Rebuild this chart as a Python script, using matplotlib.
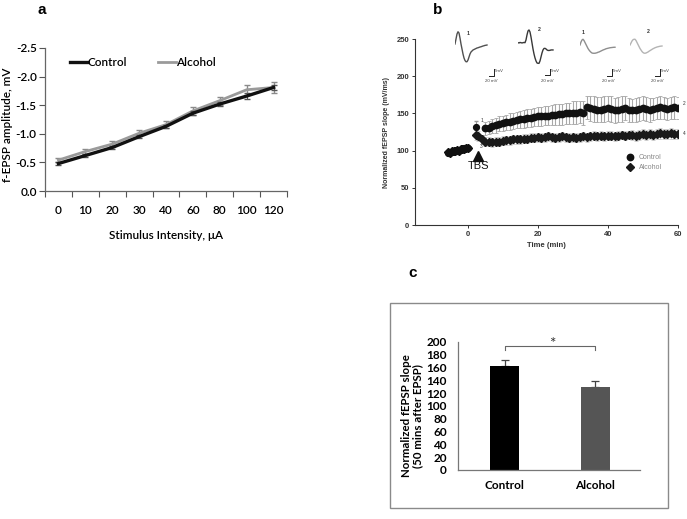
import matplotlib
matplotlib.use("Agg")
import matplotlib.pyplot as plt
import numpy as np
from matplotlib.patches import Rectangle
from matplotlib.lines import Line2D

W, H = 687, 519
plt.rcParams['font.family'] = ['Lato', 'DejaVu Sans']

# ---------------- Panel a data ----------------
a_categories = ['0', '10', '20', '30', '40', '60', '80', '100', '120']
a_control = [-0.48, -0.62, -0.76, -0.95, -1.13, -1.36, -1.52, -1.66, -1.81]
a_control_err = [0.02, 0.02, 0.03, 0.03, 0.03, 0.04, 0.04, 0.05, 0.05]
a_alcohol = [-0.54, -0.69, -0.82, -1.01, -1.16, -1.40, -1.58, -1.77, -1.81]
a_alcohol_err = [0.03, 0.04, 0.05, 0.05, 0.06, 0.07, 0.07, 0.09, 0.10]
a_yticks = [0.0, -0.5, -1.0, -1.5, -2.0, -2.5]

# ---------------- Panel b data ----------------
b_base_t = [-5.5, -5.0, -4.5, -4.0, -3.5, -3.0, -2.5, -2.0, -1.5, -1.0, -0.5, 0.0]
b_base_ctrl = [97, 98, 98, 99, 100, 100, 101, 101, 102, 103, 103, 104]
b_base_alc = [98, 97, 99, 99, 100, 101, 100, 102, 102, 102, 104, 104]
b_base_err = [2, 2, 2, 2, 2, 2, 2, 2, 2, 2, 2, 2]

b_ctrl_first_t = [2.5]
b_ctrl_first = [132]
b_ctrl_first_err = [8]

b_ctrl_t = list(range(5, 61))
b_ctrl = [130, 131, 133, 134, 136, 137, 138, 139, 140, 141,
          142, 143, 144, 144, 145, 146, 146, 147, 147, 148,
          148, 149, 149, 150, 150, 151, 151, 152, 150, 158,
          157, 156, 155, 155, 156, 157, 156, 154, 155, 156,
          157, 155, 154, 155, 156, 157, 156, 155, 156, 157,
          158, 157, 156, 157, 158, 157]
b_ctrl_err = [9, 9, 9, 10, 10, 10, 10, 11, 11, 11,
              11, 12, 12, 12, 12, 13, 13, 13, 13, 13,
              14, 14, 14, 14, 14, 15, 15, 15, 16, 16,
              17, 17, 17, 17, 17, 17, 17, 17, 17, 17,
              16, 16, 16, 16, 16, 16, 16, 16, 15, 15,
              15, 15, 15, 15, 15, 15]

b_alc_t = [2.5] + list(range(3, 61))
b_alc = [121, 120, 115, 112, 112, 111, 112, 112, 113, 114, 114,
         115, 115, 115, 116, 116, 117, 117, 118, 117, 118,
         119, 118, 117, 118, 119, 118, 117, 118, 117, 118,
         119, 118, 119, 120, 119, 120, 119, 120, 120, 119,
         120, 121, 120, 121, 121, 120, 121, 122, 121, 122,
         121, 122, 123, 122, 122, 123, 122, 122]
b_alc_err = [7, 7, 6, 6, 6, 6, 6, 6, 6, 6, 6,
             6, 6, 6, 6, 6, 6, 6, 6, 6, 6,
             6, 6, 6, 6, 6, 6, 6, 6, 6, 6,
             6, 6, 6, 6, 6, 6, 6, 6, 6, 6,
             6, 6, 6, 6, 7, 7, 7, 7, 7, 7,
             7, 7, 7, 7, 7, 7, 7, 7]
b_xticks = [0, 20, 40, 60]
b_yticks = [0, 50, 100, 150, 200, 250]

# example traces (mV, 1 sample per pixel column)
trace1 = [0, 4, 8, 9.8, 8.8, 4.8, 0, -4, -8, -11.2, -13.2, -14.2, -14.2, -12.8, -10.4, -8,
          -6.4, -5.6, -4.8, -4.4, -4, -3.6, -3.2, -3, -2.7, -2.4, -2.2, -1.9, -1.6, -1.4,
          -1.1, -1, -0.8]
trace2 = [0, -0.2, 0.2, 0, -0.2, 0, 0.2, 0, 2.2, 6.2, 9.4, 10.2, 8.6, 4.6, -0.2, -5, -9,
          -12.2, -14.6, -16.2, -16.5, -16.5, -14.6, -11.4, -8.2, -5.8, -4.6, -4.5, -5, -5.8,
          -6.2, -6.2, -6.1, -5.8, -5.8, -5.8]
trace3 = [0, 2.4, 4, 4.6, 3.6, 2, 0.4, -1.2, -2.8, -4, -5, -5.8, -6.4, -6.6, -6.6, -6.6,
          -6.4, -6.2, -5.8, -5.6, -5.2, -4.8, -4.4, -4, -3.7, -3.4, -3, -2.8, -2.6, -2.4,
          -2.2, -2.1, -2, -1.9, -1.8, -1.8]
trace4 = [0, 1.6, 3.2, 4.2, 4.6, 4.6, 3.6, 2, 0.4, -1.2, -2.8, -4, -5.2, -6, -6.5, -6.6,
          -6.4, -6, -5.6, -5, -4.5, -4, -3.5, -3, -2.6, -2.2, -1.9, -1.6, -1.4, -1.2, -1,
          -0.9, -0.8]
trace_labels = ['1', '2', '1', '2']

# ---------------- Panel c data ----------------
c_categories = ['Control', 'Alcohol']
c_values = [162, 129]
c_errors = [10, 10]
c_yticks = [0, 20, 40, 60, 80, 100, 120, 140, 160, 180, 200]


def fig_rect(left, top, right, bottom):
    return [left / W, (H - bottom) / H, (right - left) / W, (bottom - top) / H]


fig = plt.figure(figsize=(W / 100, H / 100), dpi=100)

# ================= Panel a =================
axa = fig.add_axes(fig_rect(45, 48, 287, 191))
xa = np.arange(len(a_categories))
axa.errorbar(xa, a_alcohol, yerr=a_alcohol_err, color='#9a9a9a', lw=2.0,
             ecolor='#8a8a8a', elinewidth=1, capsize=2.5, zorder=2)
axa.errorbar(xa, a_control, yerr=a_control_err, color='#111111', lw=2.4,
             ecolor='#555555', elinewidth=0.8, capsize=2, zorder=3)
axa.set_xlim(-0.5, len(a_categories) - 0.5)
axa.set_ylim(0, -2.5)
axa.set_yticks(a_yticks)
axa.set_yticklabels([f'{v:.1f}' for v in a_yticks])
axa.set_xticks(xa)
axa.set_xticklabels(a_categories)
axa.set_xticks(np.arange(-0.5, len(a_categories)), minor=True)
axa.tick_params(axis='x', which='major', length=0, pad=10, labelsize=8.5)
axa.tick_params(axis='x', which='minor', length=4, direction='out', width=0.8, color='#555')
axa.tick_params(axis='y', length=4, width=0.8, color='#555', labelsize=8.5, pad=2)
for lab in axa.get_xticklabels() + axa.get_yticklabels():
    lab.set_fontweight('semibold')
for s in ['top', 'right']:
    axa.spines[s].set_visible(False)
for s in ['left', 'bottom']:
    axa.spines[s].set_color('#666')
    axa.spines[s].set_linewidth(0.9)
axa.set_ylabel('f-EPSP amplitude, mV', fontsize=8.5, fontweight='semibold')
axa.yaxis.set_label_coords((13 - 45) / 242, (191 - 125) / 143)
axa.set_xlabel('Stimulus Intensity, \u03bcA', fontsize=8.5, fontweight='semibold', labelpad=10)
h_ctrl = Line2D([], [], color='#111111', lw=2.4)
h_alc = Line2D([], [], color='#9a9a9a', lw=2.0)
axa.legend([h_ctrl, h_alc], ['Control', 'Alcohol'], ncol=2, loc='center left',
           bbox_to_anchor=(0.058, 0.9), frameon=False,
           handlelength=1.5, handletextpad=0.05, columnspacing=2.6,
           prop={'weight': 'semibold', 'size': 8.5})

# ================= Panel b =================
axb = fig.add_axes(fig_rect(415, 39, 678, 225))
bfam = ['Liberation Sans', 'DejaVu Sans']
axb.errorbar(b_ctrl_t, b_ctrl, yerr=b_ctrl_err, fmt='none', ecolor='#a8a8a8',
             elinewidth=0.8, capsize=1.5, capthick=0.6, zorder=1)
axb.errorbar(b_alc_t, b_alc, yerr=b_alc_err, fmt='none', ecolor='#c8c8c8',
             elinewidth=0.8, capsize=1.5, capthick=0.6, zorder=1)
axb.errorbar(b_ctrl_first_t, b_ctrl_first, yerr=b_ctrl_first_err, fmt='none',
             ecolor='#999', elinewidth=0.8, capsize=1.5, zorder=1)
axb.errorbar(b_base_t, b_base_ctrl, yerr=b_base_err, fmt='none', ecolor='#aaa',
             elinewidth=0.6, capsize=1, zorder=1)
axb.plot(b_base_t, b_base_alc, 'D', color='#111', ms=3.6, zorder=3)
axb.plot(b_base_t, b_base_ctrl, 'o', color='#111', ms=4.2, zorder=3)
axb.plot(b_ctrl_first_t, b_ctrl_first, 'o', color='#111', ms=4.2, zorder=3)
lc, = axb.plot(b_ctrl_t, b_ctrl, 'o', color='#111', ms=4.6, zorder=3)
la, = axb.plot(b_alc_t, b_alc, 'D', color='#1a1a1a', ms=3.8, zorder=3)
axb.set_xlim(-15, 60)
axb.set_ylim(0, 250)
axb.set_xticks(b_xticks)
axb.set_yticks(b_yticks)
axb.tick_params(length=2.5, width=0.7, labelsize=5.5, pad=1.5, color='#333')
for lab in axb.get_xticklabels() + axb.get_yticklabels():
    lab.set_fontweight('bold')
    lab.set_family(bfam)
    lab.set_color('#333')
for s in ['top', 'right']:
    axb.spines[s].set_visible(False)
for s in ['left', 'bottom']:
    axb.spines[s].set_linewidth(0.8)
    axb.spines[s].set_color('#333')
axb.set_xlabel('Time (min)', fontsize=5.5, fontweight='bold', family=bfam, labelpad=3, color='#333')
axb.set_ylabel('Normalized fEPSP slope (mV/ms)', fontsize=5, fontweight='bold', family=bfam,
               labelpad=5, color='#333')
axb.plot([3], [93], '^', color='#111', ms=7, zorder=4)
axb.text(3, 79, 'TBS', ha='center', va='center', fontsize=8, family=bfam, color='#111')
axb.text(3.6, 140, '1', fontsize=3.5, family=bfam, color='#333', ha='left', va='center')
axb.text(3.6, 106, '3', fontsize=3.5, family=bfam, color='#333', ha='left', va='center')
axb.text(61.3, 163, '2', fontsize=3.5, family=bfam, color='#333', ha='left', va='center')
axb.text(61.3, 123, '4', fontsize=3.5, family=bfam, color='#333', ha='left', va='center')
legb = axb.legend([lc, la], ['Control', 'Alcohol'], loc='center left',
                  bbox_to_anchor=(0.795, 0.335), frameon=False, handlelength=0.8,
                  handletextpad=0.8, labelspacing=0.45, borderpad=0,
                  prop={'family': bfam, 'size': 5})
for t in legb.get_texts():
    t.set_color('#888')

# traces as small insets
trace_info = [
    (trace1, 455, 44, '#505050', 39.3, 13.3, 8.6),
    (trace2, 518, 42.7, '#383838', 32.0, 21.0, 10.2),
    (trace3, 580, 45, '#8e8e8e', 31.7, 3.3, 9.8),
    (trace4, 630, 45, '#b4b4b4', 30.0, 18.0, 10.6),
]
for (tr, x0, y0, col, barx, lx, ly), lab in zip(trace_info, trace_labels):
    axi = fig.add_axes(fig_rect(x0, y0 - 20, x0 + 50, y0 + 40))
    axi.set_xlim(0, 50)
    axi.set_ylim(-32, 16)
    axi.axis('off')
    axi.plot(np.arange(len(tr)), tr, color=col, lw=1.0, ls='-')
    bottom = (y0 - 75.5) * 0.8
    axi.plot([barx - 5, barx, barx], [bottom, bottom, bottom + 5], color='#222', lw=0.7)
    axi.text(barx + 1, bottom + 3.2, '5mV', fontsize=3.2, family=bfam, color='#444',
             ha='left', va='center')
    axi.text(barx - 3, bottom - 4.5, '20 mV', fontsize=3.2, family=bfam, color='#444',
             ha='center', va='center')
    axi.text(lx, ly, lab, fontsize=3.8, family=bfam, fontweight='bold', color='#333',
             ha='center', va='center')

# ================= Panel c =================
fig.patches.append(Rectangle((390 / W, (H - 508) / H), 278 / W, 205 / H,
                             transform=fig.transFigure, fill=False,
                             edgecolor='#8a8a8a', lw=1.0))
axc = fig.add_axes(fig_rect(458, 342, 640, 470))
xc = np.arange(len(c_categories))
axc.bar(xc, c_values, width=0.32, color=['#000000', '#555555'], zorder=2)
axc.errorbar(xc, c_values, yerr=[[0, 0], c_errors], fmt='none', ecolor='#444',
             elinewidth=0.9, capsize=3, capthick=0.9, zorder=1)
axc.set_xlim(-0.514, 1.497)
axc.set_ylim(0, 200)
axc.set_yticks(c_yticks)
axc.set_xticks(xc)
axc.set_xticklabels(c_categories)
axc.tick_params(axis='y', length=0, labelsize=8.5, pad=8)
axc.tick_params(axis='x', length=0, labelsize=8.5, pad=7)
for lab in axc.get_xticklabels() + axc.get_yticklabels():
    lab.set_fontweight('bold')
for s in ['top', 'right']:
    axc.spines[s].set_visible(False)
for s in ['left', 'bottom']:
    axc.spines[s].set_color('#777')
    axc.spines[s].set_linewidth(0.9)
axc.set_ylabel('Normalized fEPSP slope\n(50 mins after EPSP)', fontsize=8.3,
               fontweight='bold', linespacing=1.0)
axc.yaxis.set_label_coords((423 - 458) / 182, (470 - 416) / 128)
axc.plot([0, 0, 1, 1], [187, 193, 193, 187], color='#666', lw=0.8, clip_on=False)
axc.text(0.53, 197, '*', ha='center', va='center', fontsize=11, color='#333')

# panel labels
pfam = ['Liberation Sans', 'DejaVu Sans']
fig.text(42 / W, 1 - 10 / H, 'a', fontsize=11, fontweight='bold', family=pfam,
         ha='center', va='center')
fig.text(438 / W, 1 - 10 / H, 'b', fontsize=11, fontweight='bold', family=pfam,
         ha='center', va='center')
fig.text(413 / W, 1 - 273 / H, 'c', fontsize=11, fontweight='bold', family=pfam,
         ha='center', va='center')

fig.savefig('out.png', dpi=100)
